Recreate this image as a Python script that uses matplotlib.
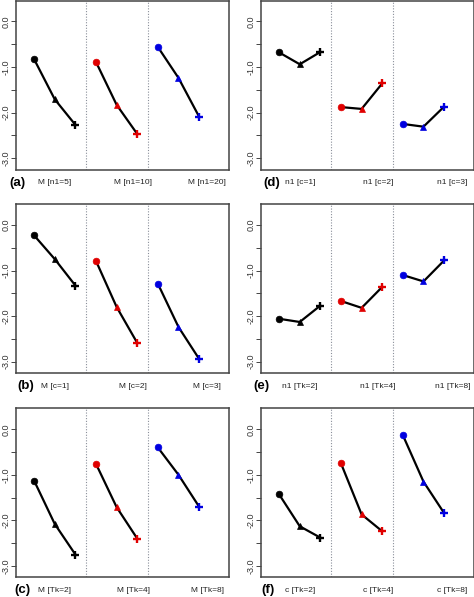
import matplotlib
matplotlib.use("Agg")
import matplotlib.pyplot as plt

plt.rcParams["font.family"] = ["Liberation Sans", "DejaVu Sans"]

# x positions of the three settings inside each group
positions = [[1, 2, 3], [4, 5, 6], [7, 8, 9]]
group_colors = ["black", "#e00000", "#0000e0"]
markers = ["o", "^", "+"]

panel_letters = ["(a)", "(b)", "(c)", "(d)", "(e)", "(f)"]
panel_labels = [
    ["M [n1=5]", "M [n1=10]", "M [n1=20]"],
    ["M [c=1]", "M [c=2]", "M [c=3]"],
    ["M [Tk=2]", "M [Tk=4]", "M [Tk=8]"],
    ["n1 [c=1]", "n1 [c=2]", "n1 [c=3]"],
    ["n1 [Tk=2]", "n1 [Tk=4]", "n1 [Tk=8]"],
    ["c [Tk=2]", "c [Tk=4]", "c [Tk=8]"],
]

# values per panel: black, red, blue groups (circle, triangle, plus)
vals_a = [[-0.83, -1.71, -2.27], [-0.89, -1.83, -2.47], [-0.56, -1.24, -2.09]]
vals_b = [[-0.23, -0.75, -1.33], [-0.79, -1.80, -2.59], [-1.29, -2.24, -2.94]]
vals_c = [[-1.13, -2.08, -2.75], [-0.76, -1.71, -2.40], [-0.40, -1.00, -1.70]]
vals_d = [[-0.68, -0.94, -0.67], [-1.88, -1.92, -1.36], [-2.25, -2.31, -1.87]]
vals_e = [[-2.06, -2.13, -1.77], [-1.67, -1.82, -1.36], [-1.10, -1.24, -0.78]]
vals_f = [[-1.43, -2.13, -2.38], [-0.75, -1.87, -2.24], [-0.13, -1.15, -1.84]]
panel_values = [vals_a, vals_b, vals_c, vals_d, vals_e, vals_f]

yticks = [0.0, -0.5, -1.0, -1.5, -2.0, -2.5, -3.0]
ytick_labels = ["0.0", "", "-1.0", "", "-2.0", "", "-3.0"]

W, H = 474, 597
fig = plt.figure(figsize=(W / 100, H / 100), dpi=100)

col_left = [16, 261]
row_top = [0.5, 204, 408.3]
ax_w, ax_h = 213, 169
label_x = [2.0, 5.8, 9.4]
letter_x = [0.005, 0.047, 0.03, 0.05, 0.002, 0.033]

for i in range(6):
    col, row = divmod(i, 3)
    left = col_left[col] / W
    bottom = 1 - (row_top[row] + ax_h) / H
    ax = fig.add_axes([left, bottom, ax_w / W, ax_h / H])

    for g in range(3):
        ax.plot(positions[g], panel_values[i][g], color="black", lw=1.6, zorder=2)
        for k in range(3):
            m = markers[k]
            ax.plot(positions[g][k], panel_values[i][g][k], marker=m,
                    color=group_colors[g], ms=6.2 if m == "+" else 4.8,
                    mew=1.7 if m == "+" else 0.5, zorder=3)

    for xv in [3.5, 6.5]:
        ax.axvline(xv, color="#8a8f9a", lw=0.8, ls=(0, (1, 1.5)), zorder=1)

    ax.set_xlim(0.12, 10.45)
    ax.set_ylim(-3.25, 0.46)
    ax.set_xticks([])
    ax.set_yticks(yticks)
    ax.set_yticklabels(ytick_labels, rotation=90, va="center", fontsize=6.5, color="#333333")
    ax.tick_params(axis="y", length=3.5, width=0.7, pad=0.5, color="#444444")
    for s in ax.spines.values():
        s.set_color("#444444")
        s.set_linewidth(1.1)

    trans = ax.get_xaxis_transform()
    for j in range(3):
        ax.text(label_x[j], -0.077, panel_labels[i][j], transform=trans,
                ha="center", va="center", fontsize=6, color="#222222")
    ax.text(letter_x[i], -0.077, panel_letters[i], transform=ax.transAxes,
            ha="center", va="center", fontsize=9.5, fontweight="bold")

fig.savefig("out.png", dpi=100)
